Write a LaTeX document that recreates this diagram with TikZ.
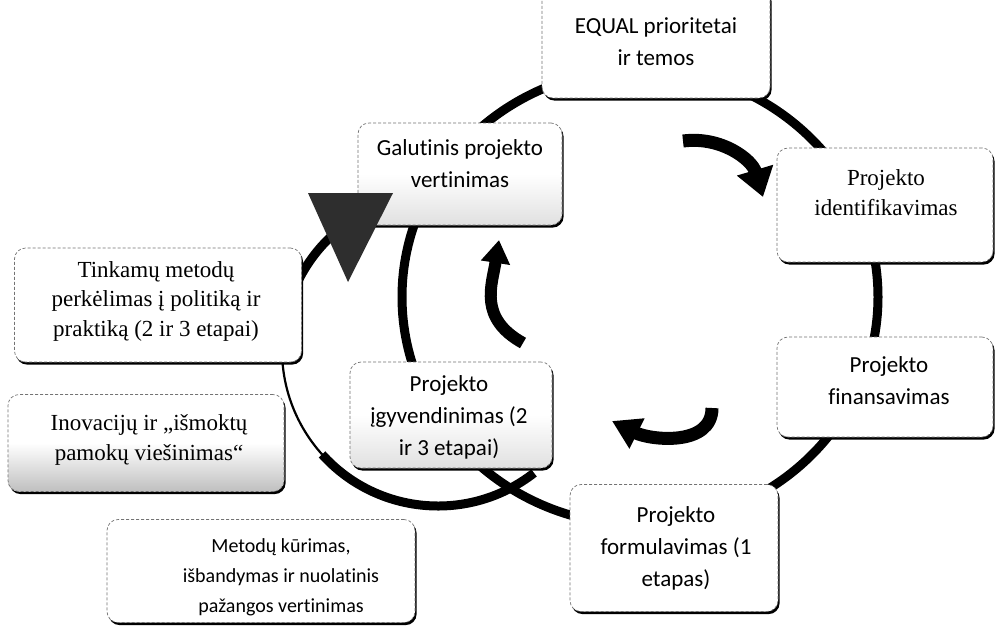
\documentclass[tikz,border=0pt]{standalone}
\usepackage{fontspec}
\setmainfont{Liberation Serif}
\newfontfamily\calib[Ligatures=NoCommon]{Carlito}
\usetikzlibrary{arrows.meta,shadows,calc}
\begin{document}
\begin{tikzpicture}[x=1pt,y=1pt,
  box/.style={draw=black!55, densely dashed, line width=0.7pt, fill=white,
    rounded corners=11pt, inner sep=0pt,
    drop shadow={shadow xshift=1.6pt, shadow yshift=-2.6pt, fill=black, opacity=1}},
  lightshade/.style={top color=white, bottom color=black!12, middle color=white},
  darkshade/.style={top color=white, bottom color=black!25, middle color=white},
  sanstxt/.style={font=\calib\fontsize{23}{32}\selectfont, align=center, inner sep=0pt},
  smallsans/.style={font=\calib\fontsize{20}{30}\selectfont, align=center, inner sep=0pt},
  seriftxt/.style={font=\fontsize{23}{29.5}\selectfont, align=center, inner sep=0pt},
  ring/.style={line width=9pt, draw=black},
  thinring/.style={line width=2.2pt, draw=black},
  bendbig/.style={line width=13pt, draw=black, -{Triangle[length=28pt,width=36pt]}},
  bendmid/.style={line width=13pt, draw=black, -{Triangle[length=28pt,width=32pt]}},
  bendsmall/.style={line width=12pt, draw=black, -{Triangle[length=23pt,width=28pt]}}
]
\useasboundingbox (0,0) rectangle (995,-625);
\fill[white] (0,0) rectangle (995,-625);

% big cycle
\coordinate (bigc) at (640,-297);
\draw[ring] (bigc) ellipse [x radius=238, y radius=228];

% left cycle (partial)
\coordinate (lc) at (438,-350);
\draw[ring] ($(lc)+(-52:156)$) arc[start angle=-52, end angle=-138, radius=156];
\draw[thinring] ($(lc)+(-138:156)$) arc[start angle=-138, end angle=-180, radius=156];
\draw[ring] ($(lc)+(-180:156)$) arc[start angle=-180, end angle=-229, radius=156];

% small bent arrows
\coordinate (a1s) at (683,-141);
\coordinate (a1e) at (763,-197);
\draw[bendbig] (a1s) .. controls (722,-136) and (752,-160) .. (a1e);
\coordinate (a2s) at (712,-408);
\coordinate (a2e) at (612,-421);
\draw[bendmid] (a2s) .. controls (712,-447) and (650,-440) .. (a2e);
\coordinate (a3s) at (523,-343);
\coordinate (a3e) at (499,-240);
\draw[bendsmall] (a3s) .. controls (478,-318) and (492,-285) .. (a3e);

% boxes
\node[box, minimum width=228, minimum height=110] (eq)  at (656,-43)  {};
\node[box, lightshade, minimum width=204, minimum height=102] (gal) at (460,-174) {};
\node[box, minimum width=216, minimum height=114] (idf) at (885,-205) {};
\node[box, minimum width=216, minimum height=100] (fin) at (885,-387) {};
\node[box, minimum width=208, minimum height=127] (frm) at (674,-548) {};
\node[box, lightshade, minimum width=202, minimum height=106] (igv) at (451,-415) {};
\node[box, minimum width=287, minimum height=114] (tnk) at (158,-305) {};
\node[box, darkshade, minimum width=276, minimum height=97] (inv) at (146,-443) {};
\node[box, minimum width=308, minimum height=103] (met) at (261,-571) {};

% arrowhead of the left cycle
\fill[black!82] (308,-193) -- (393,-193) -- (348,-282) -- cycle;

% texts
\node[sanstxt] (eqt) at (656,-42) {EQUAL prioritetai\\ir temos};
\node[sanstxt] (galt) at (460,-164) {Galutinis projekto\\vertinimas};
\node[seriftxt, font=\fontsize{23}{30}\selectfont] (idft) at (886,-193) {Projekto\\identifikavimas};
\node[sanstxt] (fint) at (889,-381) {Projekto\\finansavimas};
\node[sanstxt] (frmt) at (676,-548) {Projekto\\formulavimas (1\\etapas)};
\node[sanstxt] (igvt) at (449,-417) {Projekto\\įgyvendinimas (2\\ir 3 etapai)};
\node[seriftxt] (tnkt) at (156,-301) {Tinkamų metodų\\perkėlimas į politiką ir\\praktiką (2 ir 3 etapai)};
\node[seriftxt] (invt) at (149,-440) {Inovacijų ir „išmoktų\\pamokų viešinimas“};
\node[smallsans] (mett) at (281,-577) {Metodų kūrimas,\\išbandymas ir nuolatinis\\pažangos vertinimas};
\end{tikzpicture}
\end{document}
